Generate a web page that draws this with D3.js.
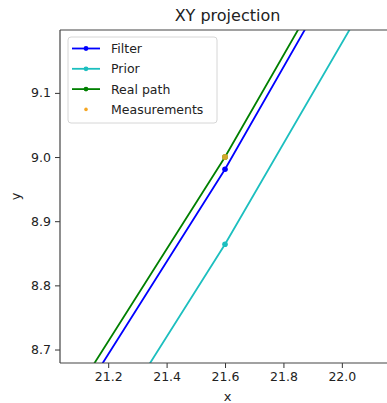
<!DOCTYPE html>
<html>
<head>
<meta charset="utf-8">
<script src="https://cdn.jsdelivr.net/npm/d3@7"></script>
<style>
  body { margin: 0; background: #fff; }
  svg { display: block; font-family: "DejaVu Sans", sans-serif; }
</style>
</head>
<body>
<svg id="chart" width="387" height="403"></svg>
<script>
// trajectories (only one step of each lies inside the view)
var filterX = [20.9, 21.6, 22.3];
var filterY = [8.476, 8.981, 9.538];
var priorX = [20.9, 21.6, 22.3];
var priorY = [8.359, 8.864, 9.413];
var realX = [20.9, 21.6, 22.3];
var realY = [8.497, 9.0, 9.555];
var measX = [21.6];
var measY = [9.0];

var xTicks = [21.2, 21.4, 21.6, 21.8, 22.0];
var yTicks = [8.7, 8.8, 8.9, 9.0, 9.1];

var series = [
  { name: "Filter", color: "#0000ff", xs: filterX, ys: filterY },
  { name: "Prior", color: "#1cbfbf", xs: priorX, ys: priorY },
  { name: "Real path", color: "#008000", xs: realX, ys: realY }
];

var svg = d3.select("#chart"),
    margin = {top: 30, right: -8, bottom: 40, left: 60},
    width = +svg.attr("width") - margin.left - margin.right,
    height = +svg.attr("height") - margin.top - margin.bottom;

var x = d3.scaleLinear().domain([21.035, 22.182]).range([0, width]);
var y = d3.scaleLinear().domain([8.679, 9.198]).range([height, 0]);

svg.append("defs").append("clipPath").attr("id", "clip")
  .append("rect").attr("width", width).attr("height", height);

var g = svg.append("g").attr("transform", "translate(" + margin.left + "," + margin.top + ")");

var plot = g.append("g").attr("clip-path", "url(#clip)");

var line = d3.line()
  .x(function(d) { return x(d[0]); })
  .y(function(d) { return y(d[1]); });

series.forEach(function(s) {
  var pts = s.xs.map(function(v, i) { return [v, s.ys[i]]; });
  plot.append("path")
    .datum(pts)
    .attr("fill", "none")
    .attr("stroke", s.color)
    .attr("stroke-width", 1.8)
    .attr("d", line);
  plot.selectAll(null).data(pts).enter().append("circle")
    .attr("cx", function(d) { return x(d[0]); })
    .attr("cy", function(d) { return y(d[1]); })
    .attr("r", 2.8)
    .attr("fill", s.color);
});

plot.selectAll(null).data(measX).enter().append("circle")
  .attr("cx", function(d) { return x(d); })
  .attr("cy", function(d, i) { return y(measY[i]); })
  .attr("r", 3)
  .attr("fill", "#d2a82a");

// axes
var xAxis = g.append("g")
  .attr("transform", "translate(0," + height + ")")
  .call(d3.axisBottom(x).tickValues(xTicks).tickFormat(d3.format(".1f")).tickSize(5).tickPadding(4));
var yAxis = g.append("g")
  .call(d3.axisLeft(y).tickValues(yTicks).tickFormat(d3.format(".1f")).tickSize(5).tickPadding(4));
[xAxis, yAxis].forEach(function(a) {
  a.selectAll("text").attr("font-size", 12.5).attr("fill", "#222").attr("font-family", "DejaVu Sans");
  a.selectAll("line").attr("stroke", "#333");
  a.select(".domain").remove();
});

// spines
g.append("line").attr("x1", 0).attr("x2", width).attr("y1", 0).attr("y2", 0).attr("stroke", "#444").attr("stroke-width", 1.2);
g.append("line").attr("x1", 0).attr("x2", width).attr("y1", height).attr("y2", height).attr("stroke", "#444").attr("stroke-width", 1.2);
g.append("line").attr("x1", 0).attr("x2", 0).attr("y1", 0).attr("y2", height).attr("stroke", "#444").attr("stroke-width", 1.2);

// labels
svg.append("text").attr("x", margin.left + width / 2).attr("y", 21)
  .attr("text-anchor", "middle").attr("font-size", 16).attr("fill", "#222").text("XY projection");
svg.append("text").attr("x", margin.left + width / 2).attr("y", 401)
  .attr("text-anchor", "middle").attr("font-size", 13).attr("fill", "#222").text("x");
svg.append("text").attr("transform", "translate(20," + (margin.top + height / 2) + ") rotate(-90)")
  .attr("text-anchor", "middle").attr("font-size", 13).attr("fill", "#222").text("y");

// legend
var leg = svg.append("g").attr("transform", "translate(68,37)");
leg.append("rect").attr("width", 149).attr("height", 86).attr("rx", 3)
  .attr("fill", "#fff").attr("fill-opacity", 0.8).attr("stroke", "#d6d6d6");
var items = series.concat([{ name: "Measurements", color: "#f5a623", marker: true }]);
items.forEach(function(s, i) {
  var cy = 11.5 + i * 20.3;
  if (!s.marker) {
    leg.append("line").attr("x1", 4).attr("x2", 32).attr("y1", cy).attr("y2", cy)
      .attr("stroke", s.color).attr("stroke-width", 1.8);
    leg.append("circle").attr("cx", 18).attr("cy", cy).attr("r", 2.4).attr("fill", s.color);
  } else {
    leg.append("circle").attr("cx", 18).attr("cy", cy).attr("r", 1.8).attr("fill", s.color);
  }
  leg.append("text").attr("x", 43).attr("y", cy + 4.5).attr("font-size", 12.5)
    .attr("fill", "#222").text(s.name);
});
</script>
</body>
</html>
